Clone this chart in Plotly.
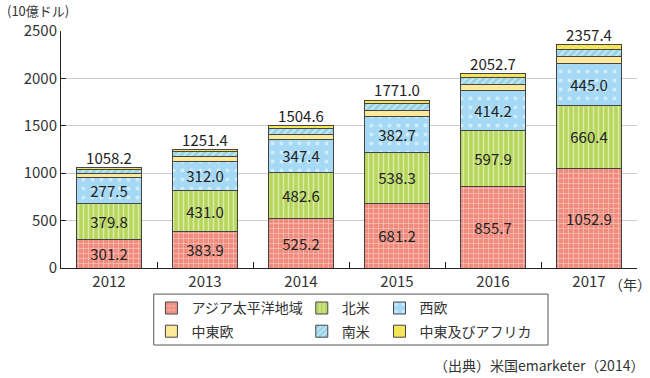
import plotly.graph_objects as go

years = ["2012", "2013", "2014", "2015", "2016", "2017"]
asia = [301.2, 383.9, 525.2, 681.2, 855.7, 1052.9]
north_america = [379.8, 431.0, 482.6, 538.3, 597.9, 660.4]
west_europe = [277.5, 312.0, 347.4, 382.7, 414.2, 445.0]
central_east_europe = [41.5, 49.4, 58.0, 64.4, 70.6, 75.7]
latin_america = [37.6, 48.1, 57.7, 64.9, 70.6, 75.9]
mea = [20.6, 27.0, 33.7, 39.5, 43.7, 47.5]
totals = [1058.2, 1251.4, 1504.6, 1771.0, 2052.7, 2357.4]

names = ["アジア太平洋地域", "北米", "西欧", "中東欧", "南米", "中東及びアフリカ"]

FONT = "Noto Sans CJK JP"
OUT = dict(color="#444444", width=1)

fig = go.Figure()

def bar(name, vals, color, pattern, legend, labels):
    fig.add_trace(go.Bar(
        x=years, y=vals, name=name, legend=legend, legendgroup=name,
        marker=dict(color=color, line=OUT, pattern=pattern),
        text=[f"{v:.1f}" for v in vals] if labels else None,
        textposition="inside" if labels else "none",
        insidetextanchor="middle", textangle=0,
        textfont=dict(family=FONT, size=15, color="#222222"),
        constraintext="none", hoverinfo="skip",
    ))

bar(names[0], asia, "#f08c7e", dict(shape="+", fgcolor="#ffffff", bgcolor="#f08c7e", size=5, solidity=0.25), "legend", True)
bar(names[1], north_america, "#b7d65c", dict(shape="|", fgcolor="#ffffff", bgcolor="#b7d65c", size=5, solidity=0.3), "legend2", True)
bar(names[2], west_europe, "#a6d9f5", dict(shape=".", fgcolor="#ffffff", bgcolor="#a6d9f5", size=9, solidity=0.15), "legend3", True)
bar(names[3], central_east_europe, "#fde99a", None, "legend", False)
bar(names[4], latin_america, "#98d2e6", dict(shape="/", fgcolor="#ffffff", bgcolor="#98d2e6", size=5, solidity=0.35), "legend2", False)
bar(names[5], mea, "#f4e34c", dict(shape="x", fgcolor="#fbf4b0", bgcolor="#f4e34c", size=5, solidity=0.3), "legend3", False)

fig.add_trace(go.Scatter(
    x=years, y=totals, mode="text", text=[f"{v:.1f}" for v in totals],
    textposition="top center", textfont=dict(family=FONT, size=15, color="#222222"),
    showlegend=False, hoverinfo="skip", cliponaxis=False,
))

legend_common = dict(
    orientation="v", traceorder="grouped", tracegroupgap=2,
    font=dict(family=FONT, size=14, color="#333333"),
    bgcolor="rgba(0,0,0,0)", borderwidth=0,
    yanchor="top", y=-0.103, xanchor="left", itemwidth=30,
)

fig.update_layout(
    width=650, height=378,
    margin=dict(l=61, r=13, t=31, b=110),
    paper_bgcolor="white", plot_bgcolor="white",
    barmode="stack", bargap=0.33,
    font=dict(family=FONT, size=15, color="#333333"),
    showlegend=True,
    legend=dict(legend_common, x=0.157),
    legend2=dict(legend_common, x=0.418),
    legend3=dict(legend_common, x=0.553),
    xaxis=dict(
        type="category", showline=True, linecolor="#222222", linewidth=1,
        ticks="inside", tickson="boundaries", ticklen=6, tickcolor="#222222",
        tickfont=dict(family=FONT, size=15, color="#333333"), showgrid=False,
    ),
    yaxis=dict(
        range=[0, 2500], dtick=500, showline=True, linecolor="#222222", linewidth=1,
        ticks="inside", ticklen=5, tickcolor="#222222",
        showgrid=True, gridcolor="#cccccc", gridwidth=1,
        tickfont=dict(family=FONT, size=15, color="#333333"), zeroline=False,
    ),
    shapes=[dict(type="rect", xref="paper", yref="paper",
                 x0=0.161, x1=0.8455, y0=-0.325, y1=-0.110,
                 line=dict(color="#555555", width=1), fillcolor="rgba(0,0,0,0)")],
    annotations=[
        dict(text="(10億ドル)", xref="paper", yref="paper", x=-0.097, y=1.085,
             xanchor="left", yanchor="middle", showarrow=False,
             font=dict(family=FONT, size=13, color="#333333")),
        dict(text="（年）", xref="paper", yref="paper", x=0.988, y=-0.015,
             xanchor="center", yanchor="top", showarrow=False,
             font=dict(family=FONT, size=14, color="#333333")),
        dict(text="（出典）米国emarketer（2014）", xref="paper", yref="paper", x=1.015, y=-0.41,
             xanchor="right", yanchor="middle", showarrow=False,
             font=dict(family=FONT, size=14, color="#333333")),
    ],
)

fig.write_html("out.html", config={"displayModeBar": False},
               post_script="document.body.style.margin='0';")
